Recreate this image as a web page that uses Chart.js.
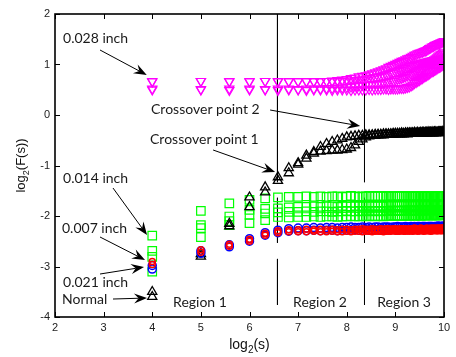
<!DOCTYPE html>
<html>
<head>
<meta charset="utf-8">
<script src="https://cdn.jsdelivr.net/npm/chart.js@4.4.1/dist/chart.umd.min.js"></script>
<style>
  html, body { margin: 0; padding: 0; background: #fff; }
  #wrap { width: 456px; height: 357px; }
</style>
</head>
<body>
<div id="wrap"><canvas id="dfaChart"></canvas></div>
<script>
// Window sizes s (samples); plotted as log2(s)
const windowSizes = [16,32,48,64,80,96,112,128,144,160,176,192,208,224,240,256,
  272,288,304,320,336,352,368,384,400,416,432,448,464,480,496,512,
  528,544,560,576,592,608,624,640,656,672,688,704,720,736,752,768,
  784,800,816,832,848,864,880,896,912,928,944,960,976,992,1008,1024];

// log2(F(s)) per run, one value for each window size

// 0.028 inch fault
const fault028A = [0.67,0.67,0.66,0.67,0.67,0.66,0.67,0.67,0.66,0.67,0.67,0.67,
  0.68,0.69,0.70,0.71,0.73,0.74,0.76,0.77,0.78,0.80,0.82,0.84,
  0.86,0.88,0.90,0.92,0.95,0.97,0.99,1.01,1.03,1.05,1.07,1.08,
  1.10,1.12,1.13,1.15,1.17,1.19,1.20,1.22,1.23,1.24,1.25,1.26,
  1.27,1.28,1.30,1.32,1.33,1.35,1.36,1.38,1.39,1.40,1.41,1.42,1.43,1.44,1.45,1.46];
const fault028B = [0.66,0.67,0.67,0.66,0.67,0.67,0.66,0.66,0.67,0.66,0.66,0.67,
  0.66,0.67,0.67,0.68,0.68,0.69,0.70,0.70,0.72,0.73,0.74,0.75,
  0.76,0.77,0.78,0.80,0.81,0.83,0.84,0.86,0.87,0.89,0.90,0.92,
  0.93,0.94,0.96,0.97,0.98,0.99,1.00,1.01,1.02,1.03,1.03,1.04,
  1.05,1.05,1.06,1.07,1.07,1.08,1.08,1.09,1.09,1.10,1.10,1.10,1.11,1.10,1.11,1.10];
const fault028C = [0.52,0.51,0.52,0.52,0.51,0.52,0.52,0.51,0.52,0.52,0.52,0.53,
  0.53,0.54,0.54,0.55,0.56,0.57,0.58,0.59,0.60,0.60,0.61,0.62,
  0.62,0.63,0.64,0.65,0.66,0.67,0.68,0.70,0.71,0.72,0.73,0.75,
  0.76,0.78,0.79,0.81,0.82,0.84,0.86,0.88,0.89,0.91,0.93,0.95,
  0.97,0.99,1.01,1.03,1.04,1.06,1.08,1.10,1.12,1.14,1.16,1.18,1.20,1.21,1.23,1.25];
const fault028D = [0.50,0.50,0.49,0.50,0.50,0.49,0.50,0.50,0.49,0.50,0.50,0.50,
  0.49,0.50,0.50,0.50,0.49,0.50,0.50,0.50,0.50,0.51,0.50,0.51,
  0.51,0.51,0.52,0.52,0.51,0.52,0.52,0.52,0.52,0.53,0.53,0.53,
  0.54,0.55,0.56,0.58,0.60,0.63,0.65,0.67,0.69,0.71,0.73,0.75,
  0.77,0.78,0.80,0.82,0.84,0.86,0.87,0.89,0.90,0.92,0.94,0.95,0.96,0.98,0.99,1.00];

// Normal bearing
const normalA = [-3.50,-2.75,-2.15,-1.63,-1.43,-1.23,-1.05,-0.95,-0.80,-0.73,-0.63,-0.57,
  -0.53,-0.50,-0.47,-0.44,-0.43,-0.42,-0.41,-0.41,-0.40,-0.40,-0.40,-0.39,
  -0.39,-0.39,-0.38,-0.38,-0.38,-0.38,-0.37,-0.37,-0.37,-0.37,-0.36,-0.37,
  -0.36,-0.36,-0.36,-0.36,-0.36,-0.35,-0.36,-0.35,-0.36,-0.35,-0.35,-0.35,
  -0.35,-0.35,-0.34,-0.35,-0.35,-0.34,-0.35,-0.34,-0.34,-0.35,-0.34,-0.34,-0.34,-0.34,-0.33,-0.34];
const normalB = [-3.60,-2.80,-2.20,-1.82,-1.53,-1.30,-1.15,-0.98,-0.86,-0.76,-0.72,-0.71,
  -0.70,-0.70,-0.69,-0.68,-0.65,-0.60,-0.53,-0.48,-0.44,-0.42,-0.41,-0.41,
  -0.40,-0.40,-0.40,-0.39,-0.39,-0.39,-0.39,-0.38,-0.38,-0.38,-0.38,-0.38,
  -0.37,-0.38,-0.37,-0.37,-0.37,-0.37,-0.37,-0.36,-0.37,-0.36,-0.37,-0.36,
  -0.36,-0.36,-0.36,-0.36,-0.35,-0.36,-0.36,-0.35,-0.36,-0.35,-0.35,-0.36,-0.35,-0.35,-0.35,-0.35];

// 0.014 inch fault
const fault014A = [-2.39,-1.90,-1.75,-1.68,-1.65,-1.63,-1.62,-1.62,-1.61,-1.62,-1.61,-1.62,
  -1.61,-1.61,-1.62,-1.61,-1.60,-1.61,-1.62,-1.61,-1.61,-1.60,-1.61,-1.61,
  -1.60,-1.61,-1.61,-1.60,-1.61,-1.60,-1.61,-1.60,-1.60,-1.61,-1.60,-1.60,
  -1.61,-1.60,-1.60,-1.61,-1.60,-1.60,-1.61,-1.60,-1.60,-1.60,-1.61,-1.60,
  -1.60,-1.60,-1.61,-1.60,-1.60,-1.60,-1.61,-1.60,-1.60,-1.60,-1.60,-1.61,-1.60,-1.60,-1.60,-1.60];
const fault014B = [-2.69,-2.18,-2.01,-1.88,-1.86,-1.85,-1.83,-1.82,-1.82,-1.81,-1.82,-1.81,
  -1.81,-1.82,-1.80,-1.81,-1.81,-1.80,-1.81,-1.80,-1.81,-1.80,-1.80,-1.81,
  -1.80,-1.80,-1.81,-1.80,-1.80,-1.79,-1.80,-1.80,-1.80,-1.79,-1.80,-1.80,
  -1.79,-1.80,-1.80,-1.79,-1.80,-1.79,-1.80,-1.79,-1.79,-1.80,-1.79,-1.79,
  -1.80,-1.79,-1.79,-1.79,-1.80,-1.79,-1.79,-1.79,-1.79,-1.80,-1.79,-1.79,-1.79,-1.79,-1.78,-1.79];
const fault014C = [-2.81,-2.24,-2.10,-1.98,-1.95,-1.93,-1.92,-1.92,-1.91,-1.92,-1.91,-1.91,
  -1.92,-1.91,-1.91,-1.90,-1.91,-1.91,-1.90,-1.91,-1.90,-1.90,-1.91,-1.90,
  -1.90,-1.91,-1.90,-1.90,-1.90,-1.89,-1.90,-1.90,-1.89,-1.90,-1.90,-1.89,
  -1.90,-1.89,-1.89,-1.90,-1.89,-1.89,-1.90,-1.89,-1.89,-1.89,-1.90,-1.89,
  -1.89,-1.89,-1.88,-1.89,-1.89,-1.89,-1.88,-1.89,-1.89,-1.88,-1.89,-1.89,-1.88,-1.89,-1.88,-1.88];
const fault014D = [-3.10,-2.42,-2.18,-2.14,-2.08,-2.02,-2.03,-2.02,-2.02,-2.01,-2.02,-2.01,
  -2.01,-2.02,-2.01,-2.01,-2.00,-2.01,-2.01,-2.00,-2.01,-2.00,-2.00,-2.01,
  -2.00,-2.00,-2.01,-2.00,-2.00,-2.00,-1.99,-2.00,-2.00,-2.00,-1.99,-2.00,
  -2.00,-1.99,-2.00,-1.99,-1.99,-2.00,-1.99,-1.99,-1.99,-2.00,-1.99,-1.99,
  -1.99,-1.99,-1.99,-1.98,-1.99,-1.99,-1.99,-1.98,-1.99,-1.99,-1.98,-1.99,-1.98,-1.98,-1.99,-1.98];

// 0.021 inch fault
const fault021A = [-2.98,-2.69,-2.57,-2.45,-2.33,-2.28,-2.25,-2.24,-2.24,-2.23,-2.24,-2.23,
  -2.23,-2.24,-2.23,-2.23,-2.22,-2.23,-2.23,-2.22,-2.23,-2.22,-2.23,-2.22,
  -2.22,-2.23,-2.22,-2.22,-2.22,-2.23,-2.22,-2.22,-2.21,-2.22,-2.22,-2.22,
  -2.21,-2.22,-2.22,-2.21,-2.22,-2.21,-2.22,-2.21,-2.21,-2.22,-2.21,-2.21,
  -2.21,-2.22,-2.21,-2.21,-2.21,-2.21,-2.22,-2.21,-2.21,-2.21,-2.20,-2.21,-2.21,-2.21,-2.20,-2.21];
const fault021B = [-3.05,-2.74,-2.61,-2.50,-2.38,-2.33,-2.30,-2.29,-2.29,-2.28,-2.29,-2.28,
  -2.28,-2.29,-2.28,-2.28,-2.28,-2.27,-2.28,-2.28,-2.27,-2.28,-2.27,-2.27,
  -2.27,-2.28,-2.27,-2.27,-2.27,-2.27,-2.26,-2.27,-2.27,-2.27,-2.26,-2.27,
  -2.26,-2.27,-2.26,-2.26,-2.27,-2.26,-2.26,-2.26,-2.27,-2.26,-2.26,-2.26,
  -2.26,-2.26,-2.25,-2.26,-2.26,-2.26,-2.25,-2.26,-2.26,-2.25,-2.26,-2.25,-2.26,-2.25,-2.25,-2.26];

// 0.007 inch fault
const fault007A = [-2.90,-2.67,-2.56,-2.46,-2.34,-2.29,-2.27,-2.27,-2.26,-2.27,-2.26,-2.27,
  -2.26,-2.27,-2.26,-2.26,-2.27,-2.26,-2.26,-2.25,-2.26,-2.26,-2.25,-2.26,
  -2.26,-2.25,-2.26,-2.25,-2.25,-2.26,-2.25,-2.25,-2.26,-2.25,-2.25,-2.25,
  -2.25,-2.26,-2.25,-2.25,-2.25,-2.24,-2.25,-2.25,-2.25,-2.24,-2.25,-2.25,
  -2.25,-2.24,-2.25,-2.25,-2.24,-2.25,-2.24,-2.25,-2.24,-2.25,-2.24,-2.24,-2.25,-2.24,-2.24,-2.24];
const fault007B = [-2.96,-2.72,-2.60,-2.50,-2.38,-2.33,-2.31,-2.31,-2.31,-2.30,-2.31,-2.31,
  -2.30,-2.31,-2.31,-2.30,-2.31,-2.30,-2.30,-2.31,-2.30,-2.30,-2.31,-2.30,
  -2.30,-2.30,-2.31,-2.30,-2.30,-2.30,-2.29,-2.30,-2.30,-2.30,-2.29,-2.30,
  -2.30,-2.29,-2.30,-2.29,-2.30,-2.29,-2.29,-2.30,-2.29,-2.29,-2.29,-2.30,
  -2.29,-2.29,-2.29,-2.29,-2.30,-2.29,-2.29,-2.28,-2.29,-2.29,-2.29,-2.28,-2.29,-2.29,-2.28,-2.29];

// Region boundaries (log2 s) and the pieces of each divider that are drawn
const regionBounds = [6.575, 8.365];
const dividerSpans = [[2, -1.33], [-1.64, -2.53], [-2.85, -3.76]];

// Text notes: label, left x, middle y (data units)
const noteLabels = ['0.028 inch', 'Crossover point 2', 'Crossover point 1', '0.014 inch',
  '0.007 inch', '0.021 inch', 'Normal', 'Region 1', 'Region 2', 'Region 3'];
const noteX = [2.165, 3.975, 3.955, 2.165, 2.144, 2.165, 2.144, 4.428, 6.897, 8.626];
const noteY = [1.515, 0.109, -0.485, -1.267, -2.238, -3.307, -3.653, -3.713, -3.713, -3.713];

// Arrows: tail and head (data units)
const arrowFrom = [[2.926, 1.287], [6.424, 0.099], [5.251, -0.693], [3.193, -1.446],
  [2.926, -2.416], [2.926, -3.149], [3.193, -3.644]];
const arrowTo = [[3.887, 0.792], [8.276, -0.218], [6.527, -1.129], [3.893, -2.376],
  [3.852, -2.871], [3.831, -3.010], [3.893, -3.624]];

function toPoints(run) {
  return windowSizes.map((s, i) => ({ x: Math.log2(s), y: run[i] }));
}

function markerSet(run, style, order) {
  return Object.assign({
    data: toPoints(run),
    showLine: false,
    backgroundColor: 'rgba(0,0,0,0)',
    order: order
  }, style);
}

const greenSquare = { pointStyle: 'rect', pointRadius: 6, borderColor: '#00ff00', pointBorderWidth: 1.2 };
const magentaDown = { pointStyle: 'triangle', pointRotation: 180, pointRadius: 5.3, borderColor: '#ff00ff', pointBorderWidth: 1.2 };
const blackUp = { pointStyle: 'triangle', pointRadius: 5.3, borderColor: '#000000', pointBorderWidth: 1.3 };
const blueCircle = { pointStyle: 'circle', pointRadius: 4, borderColor: '#0000ff', pointBorderWidth: 1.5 };
const redCircle = { pointStyle: 'circle', pointRadius: 3, borderColor: '#ff0000', pointBorderWidth: 1.5 };

const datasets = [];
regionBounds.forEach(bx => {
  dividerSpans.forEach(span => {
    datasets.push({
      data: [{ x: bx, y: span[0] }, { x: bx, y: span[1] }],
      showLine: true,
      borderColor: '#000',
      borderWidth: 1,
      pointRadius: 0,
      order: 9
    });
  });
});
[fault014A, fault014B, fault014C, fault014D].forEach(r => datasets.push(markerSet(r, greenSquare, 6)));
[fault028A, fault028B, fault028C, fault028D].forEach(r => datasets.push(markerSet(r, magentaDown, 5)));
[normalA, normalB].forEach(r => datasets.push(markerSet(r, blackUp, 4)));
[fault021A, fault021B].forEach(r => datasets.push(markerSet(r, blueCircle, 3)));
[fault007A, fault007B].forEach(r => datasets.push(markerSet(r, redCircle, 2)));

// Box frame with inward ticks on all four sides
const frameTicks = {
  id: 'frameTicks',
  afterDatasetsDraw(chart) {
    const { ctx, chartArea: a, scales: { x, y } } = chart;
    ctx.save();
    ctx.strokeStyle = '#000';
    ctx.lineWidth = 1;
    ctx.beginPath();
    x.ticks.forEach(t => {
      const px = Math.round(x.getPixelForValue(t.value)) + 0.5;
      ctx.moveTo(px, a.bottom); ctx.lineTo(px, a.bottom - 5);
      ctx.moveTo(px, a.top); ctx.lineTo(px, a.top + 5);
    });
    y.ticks.forEach(t => {
      const py = Math.round(y.getPixelForValue(t.value)) + 0.5;
      ctx.moveTo(a.left, py); ctx.lineTo(a.left + 5, py);
      ctx.moveTo(a.right, py); ctx.lineTo(a.right - 5, py);
    });
    ctx.stroke();
    ctx.lineWidth = 1.6;
    ctx.strokeRect(a.left, a.top, a.right - a.left, a.bottom - a.top);
    ctx.restore();
  }
};

// Text with a subscript part, centred on (0, baseline)
function drawSubscripted(ctx, parts, size) {
  const big = size + 'px "Liberation Sans", Arial, sans-serif';
  const small = Math.round(size * 0.72) + 'px "Liberation Sans", Arial, sans-serif';
  let width = 0;
  parts.forEach(p => { ctx.font = p[1] ? small : big; width += ctx.measureText(p[0]).width; });
  let cx = -width / 2;
  parts.forEach(p => {
    ctx.font = p[1] ? small : big;
    ctx.fillText(p[0], cx, p[1] ? size * 0.3 : 0);
    cx += ctx.measureText(p[0]).width;
  });
}

const axisTitles = {
  id: 'axisTitles',
  afterDraw(chart) {
    const { ctx, chartArea: a } = chart;
    ctx.save();
    ctx.fillStyle = '#111';
    ctx.textBaseline = 'alphabetic';
    ctx.textAlign = 'left';
    ctx.translate((a.left + a.right) / 2, a.bottom + 32);
    drawSubscripted(ctx, [['log', false], ['2', true], ['(s)', false]], 14);
    ctx.restore();

    ctx.save();
    ctx.fillStyle = '#111';
    ctx.textBaseline = 'alphabetic';
    ctx.textAlign = 'left';
    ctx.translate(a.left - 30, (a.top + a.bottom) / 2);
    ctx.rotate(-Math.PI / 2);
    drawSubscripted(ctx, [['log', false], ['2', true], ['(F(s))', false]], 13);
    ctx.restore();
  }
};

// Callout labels and arrows, placed in data units
const callouts = {
  id: 'callouts',
  afterDraw(chart) {
    const { ctx, scales: { x, y } } = chart;
    ctx.save();
    ctx.fillStyle = '#1a1a1a';
    ctx.font = '14px Lato, "Open Sans", sans-serif';
    ctx.textBaseline = 'middle';
    ctx.textAlign = 'left';
    noteLabels.forEach((txt, i) => {
      ctx.fillText(txt, x.getPixelForValue(noteX[i]), y.getPixelForValue(noteY[i]));
    });

    ctx.strokeStyle = '#000';
    ctx.fillStyle = '#000';
    ctx.lineWidth = 1;
    arrowFrom.forEach((from, i) => {
      const sx = x.getPixelForValue(from[0]), sy = y.getPixelForValue(from[1]);
      const tx = x.getPixelForValue(arrowTo[i][0]), ty = y.getPixelForValue(arrowTo[i][1]);
      const ang = Math.atan2(ty - sy, tx - sx);
      const ux = Math.cos(ang), uy = Math.sin(ang);
      const len = 13, half = 5;
      const nx = tx - ux * len * 0.65, ny = ty - uy * len * 0.65;
      ctx.beginPath();
      ctx.moveTo(sx, sy);
      ctx.lineTo(nx, ny);
      ctx.stroke();
      ctx.beginPath();
      ctx.moveTo(tx, ty);
      ctx.lineTo(tx - ux * len - uy * half, ty - uy * len + ux * half);
      ctx.lineTo(nx, ny);
      ctx.lineTo(tx - ux * len + uy * half, ty - uy * len - ux * half);
      ctx.closePath();
      ctx.fill();
    });
    ctx.restore();
  }
};

const tickFont = { family: '"Liberation Sans", Arial, sans-serif', size: 11 };

new Chart(document.getElementById('dfaChart'), {
  type: 'scatter',
  data: { datasets: datasets },
  options: {
    responsive: true,
    maintainAspectRatio: false,
    animation: false,
    events: [],
    layout: { padding: { left: 0, top: 14, right: 12, bottom: 0 } },
    plugins: {
      legend: { display: false },
      tooltip: { enabled: false }
    },
    scales: {
      x: {
        type: 'linear',
        min: 2,
        max: 10,
        border: { display: false },
        grid: { display: false, drawTicks: false },
        ticks: { stepSize: 1, color: '#222', font: tickFont, padding: 4, maxRotation: 0 },
        afterFit(scale) { scale.height = 40; }
      },
      y: {
        type: 'linear',
        min: -4,
        max: 2,
        border: { display: false },
        grid: { display: false, drawTicks: false },
        ticks: { stepSize: 1, color: '#222', font: tickFont, padding: 5 },
        afterFit(scale) { scale.width = 55; }
      }
    }
  },
  plugins: [frameTicks, axisTitles, callouts]
});
</script>
</body>
</html>
